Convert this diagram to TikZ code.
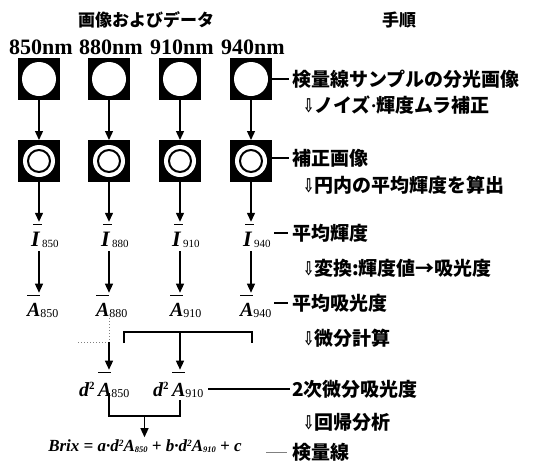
\documentclass[tikz,border=0pt]{standalone}
\usepackage{fontspec}
\usepackage{graphicx}
\setmainfont{Liberation Serif}
\newfontfamily\jp{Noto Sans CJK JP}
\newfontfamily\symf{DejaVu Sans}
\usetikzlibrary{arrows.meta}
\newcommand\Ibar[1]{{\fontsize{22}{22}\selectfont\rlap{\hspace{0.10em}\rule[0.95em]{0.42em}{1.3pt}}\textbf{\textit{I}}}{\fontsize{11}{11}\selectfont\raisebox{-1pt}{\,#1}}}
\newcommand\Abar[1]{{\fontsize{20}{20}\selectfont\rlap{\hspace{0.02em}\rule[1.0em]{0.62em}{1.3pt}}\textbf{\textit{A}}}{\fontsize{12}{12}\selectfont\raisebox{-1pt}{#1}}}
\newcommand\dAbar[1]{{\fontsize{20}{20}\selectfont\textbf{\textit{d}}{\fontsize{11}{11}\selectfont\raisebox{0.55em}{\textbf{2}}}\,\rlap{\hspace{0.02em}\rule[1.15em]{0.62em}{1.3pt}}\textbf{\textit{A}}}{\fontsize{12}{12}\selectfont\raisebox{-1pt}{#1}}}
\newcommand\dn{{\symf\bfseries\scalebox{0.7}[1]{⇩}}}
\newcommand\mdot{{\rmfamily\bfseries ·}}
\begin{document}
\begin{tikzpicture}[x=1pt,y=-1pt,
  every node/.style={inner sep=0pt,outer sep=0pt},
  ln/.style={line width=1.3pt},
  arr/.style={line width=1.3pt,-{Triangle[width=8pt,length=9pt]}},
  boxsq/.style={fill=black,minimum size=42pt},
  jpl/.style={font=\jp\bfseries\fontsize{19}{19}\selectfont,anchor=west},
  head/.style={font=\jp\bfseries\fontsize{17}{17}\selectfont},
  nmlab/.style={font=\bfseries\fontsize{22}{22}\selectfont},
  mathlab/.style={anchor=base west}]
\useasboundingbox (0,0) rectangle (540,464);
% headers
\node[head] (h1) at (146,20) {画像およびデータ};
\node[head] (h2) at (399,20) {手順};
% wavelength labels
\node[nmlab] (n1) at (41,47) {850nm};
\node[nmlab] (n2) at (111,47) {880nm};
\node[nmlab] (n3) at (182,47) {910nm};
\node[nmlab] (n4) at (253,47) {940nm};
% images
\foreach \i/\x in {1/39,2/109,3/180,4/251}{
  \node[boxsq] (t\i) at (\x,79) {};
  \fill[white] (t\i) circle (17pt);
  \node[boxsq] (s\i) at (\x,161) {};
  \fill[white] (s\i) circle (16pt);
  \draw[line width=2pt] (s\i) circle (11pt);
  \draw[arr] (t\i.south) -- (s\i.north);
}
% mean intensity
\node[mathlab] (i1) at (31,246) {\Ibar{850}};
\node[mathlab] (i2) at (101,246) {\Ibar{880}};
\node[mathlab] (i3) at (172,246) {\Ibar{910}};
\node[mathlab] (i4) at (243,246) {\Ibar{940}};
% mean absorbance
\node[mathlab] (a1) at (27,316) {\Abar{850}};
\node[mathlab] (a2) at (96,316) {\Abar{880}};
\node[mathlab] (a3) at (170,316) {\Abar{910}};
\node[mathlab] (a4) at (240,316) {\Abar{940}};
\foreach \i in {1,2,3,4}{
  \draw[arr,shorten >=2pt] (s\i.south) -- (s\i.south |- i\i.north);
  \draw[arr,shorten <=4pt,shorten >=2pt] (s\i.south |- i\i.south) -- (s\i.south |- a\i.north);
}
% second derivative
\node[mathlab] (d1) at (79,396) {\dAbar{850}};
\node[mathlab] (d2) at (153,396) {\dAbar{910}};
% bracket from A880..A940
\coordinate (bl) at (124,332);
\coordinate (br) at (252,332);
\coordinate (bm) at (180,332);
\draw[ln] ([yshift=-11pt]bl) -- (bl) -- (br) -- ([yshift=-11pt]br);
\draw[arr,shorten >=2pt] (bm) -- (bm |- d2.north);
% dotted bracket
\coordinate (dl) at (78,342);
\coordinate (dm) at (109,342);
\draw[gray,dotted,line width=1pt] (dl) -- (dm) -- (dm |- a2.south);
\draw[arr,shorten >=2pt] (dm) -- (dm |- d1.north);
% bracket to regression
\coordinate (el) at (109,416);
\coordinate (er) at (180,416);
\coordinate (em) at (144.5,416);
\node[anchor=base] (brix) at (145,451) {\bfseries\itshape\fontsize{17}{17}\selectfont Brix = a\mdot d{\fontsize{9.5}{9.5}\selectfont\raisebox{0.5em}{2}}A{\fontsize{8.5}{8.5}\selectfont\raisebox{-0.2em}{850}} + b\mdot d{\fontsize{9.5}{9.5}\selectfont\raisebox{0.5em}{2}}A{\fontsize{8.5}{8.5}\selectfont\raisebox{-0.2em}{910}} + c};
\draw[ln] (el |- d1.south) ++(0,4pt) -- (el) -- (er) -- ([yshift=16pt]er);
\draw[arr,shorten >=2pt] (em) -- (em |- brix.north);
% right labels
\node[jpl] (L1) at (292,79) {検量線サンプルの分光画像};
\node[jpl] (P1) at (303,105) {\dn ノイズ\mdot 輝度ムラ補正};
\node[jpl] (L2) at (292,158) {補正画像};
\node[jpl] (P2) at (303,185) {\dn 円内の平均輝度を算出};
\node[jpl] (L3) at (292,233) {平均輝度};
\node[jpl] (P3) at (303,268) {\dn 変換:輝度値→吸光度};
\node[jpl] (L4) at (292,303) {平均吸光度};
\node[jpl] (P4) at (303,338) {\dn 微分計算};
\node[jpl] (L5) at (292,389) {2次微分吸光度};
\node[jpl] (P5) at (303,422) {\dn 回帰分析};
\node[jpl] (L6) at (292,452) {検量線};
\draw[ln] (t4.east) -- ([xshift=-3pt]L1.west);
\draw[ln] (s4.east |- L2.west) -- ([xshift=-3pt]L2.west);
\draw[ln] ([xshift=-18pt]L3.west) -- ([xshift=-4pt]L3.west);
\draw[ln] ([xshift=-18pt]L4.west) -- ([xshift=-4pt]L4.west);
\draw[ln] ([xshift=5pt]d2.east |- L5.west) -- ([xshift=-2pt]L5.west);
\draw[line width=1pt,gray] ([xshift=-26pt]L6.west) -- ([xshift=-5pt]L6.west);
\end{tikzpicture}
\end{document}
